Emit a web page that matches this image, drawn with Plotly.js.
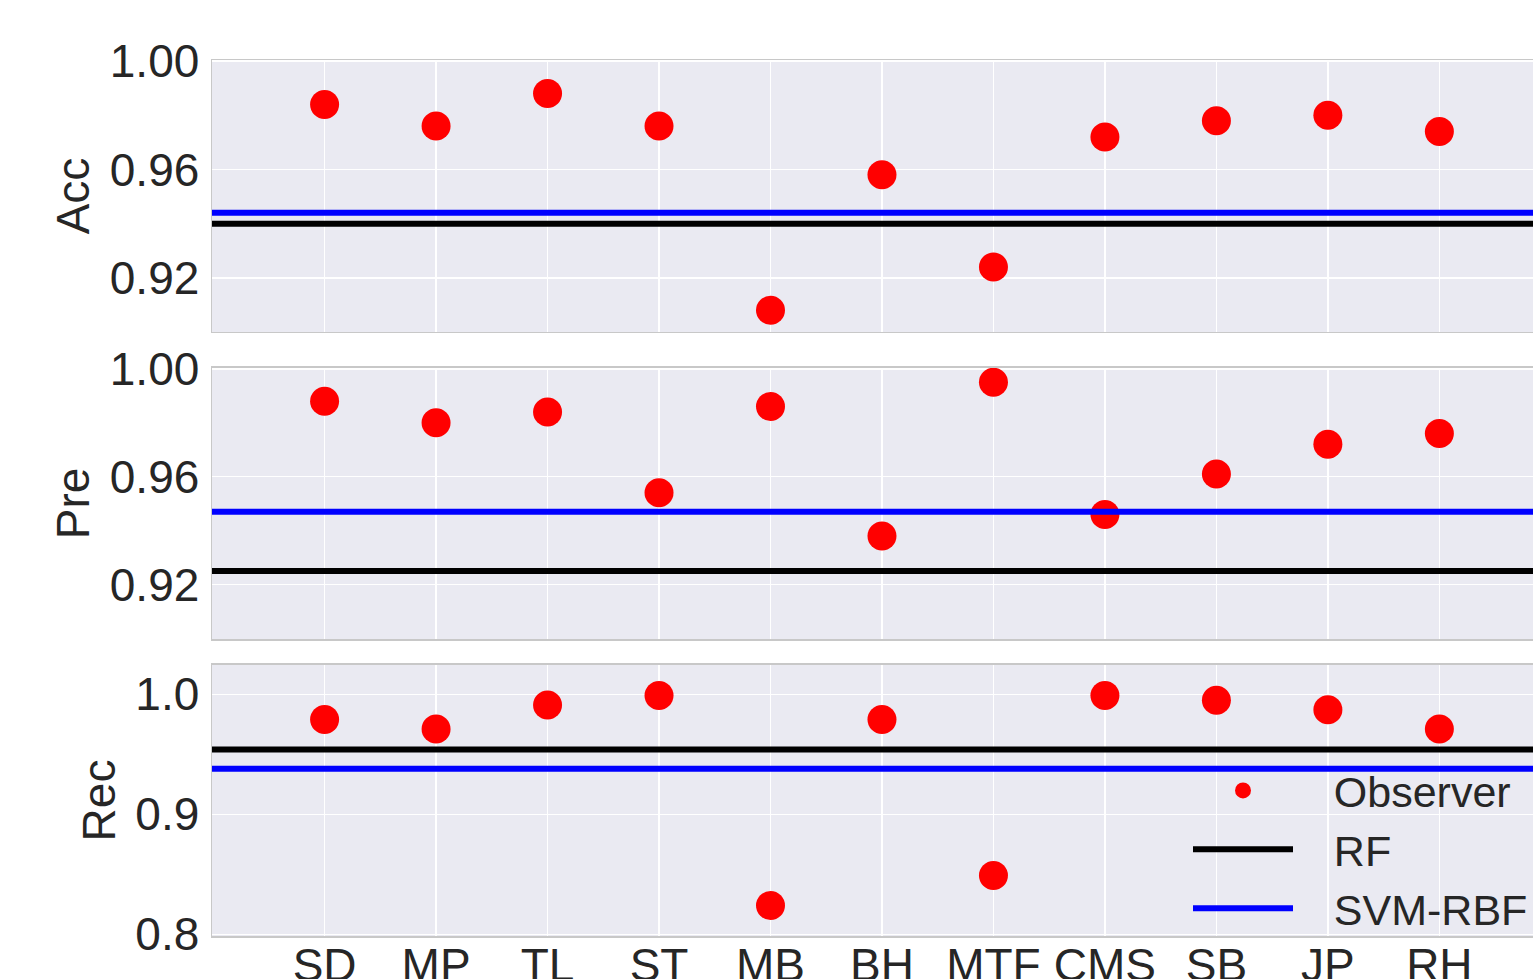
<!DOCTYPE html>
<html>
<head>
<meta charset="utf-8">
<script src="https://cdn.plot.ly/plotly-3.0.1.min.js"></script>
<style>html,body{margin:0;padding:0;overflow:hidden;background:#fff}#chart{width:1533px;height:979px}</style>
</head>
<body>
<div id="chart"></div>
<script>
// ---- data ----
const categories = ["SD","MP","TL","ST","MB","BH","MTF","CMS","SB","JP","RH"];
const accObserver = [0.984,0.976,0.988,0.976,0.908,0.958,0.924,0.972,0.978,0.980,0.974];
const preObserver = [0.988,0.980,0.984,0.954,0.986,0.938,0.995,0.946,0.961,0.972,0.976];
const recObserver = [0.979,0.971,0.991,0.999,0.824,0.979,0.849,0.999,0.995,0.987,0.971];
const rfValues  = {acc:0.940, pre:0.925, rec:0.954};
const svmValues = {acc:0.944, pre:0.947, rec:0.938};
const metricNames = ["Acc","Pre","Rec"];
const seriesNames = ["Observer","RF","SVM-RBF"];

const FONT = "Liberation Sans, Arial, sans-serif";
const TXT = "#262626";
const BG = "#EAEAF2";
const BORDER = "#c8c8c8";
const GAP = "\u00A0\u00A0\u00A0"; // space between legend symbol and text

const obsSeries = [accObserver, preObserver, recObserver];
const keys = ["acc","pre","rec"];
const traces = [];
obsSeries.forEach((vals,i)=>{
  traces.push({
    type:"scatter", mode:"markers", x:categories, y:vals,
    xaxis: i===0?"x":"x"+(i+1), yaxis: i===0?"y":"y"+(i+1),
    marker:{color:"#ff0000", size:29},
    name:GAP+seriesNames[0], showlegend: i===2, legendrank:1
  });
});
// legend entries for the reference lines (lines themselves drawn as shapes spanning the axes)
traces.push({type:"scatter", mode:"lines", x:[null], y:[null], xaxis:"x3", yaxis:"y3",
  line:{color:"#000000", width:6}, name:GAP+seriesNames[1], legendrank:2});
traces.push({type:"scatter", mode:"lines", x:[null], y:[null], xaxis:"x3", yaxis:"y3",
  line:{color:"#0000ff", width:6}, name:GAP+seriesNames[2], legendrank:3});

const shapes = [];
keys.forEach((k,i)=>{
  const yr = i===0?"y":"y"+(i+1);
  const xr = (i===0?"x":"x"+(i+1))+" domain";
  shapes.push({type:"line", xref:xr, yref:yr, x0:0, x1:1, y0:svmValues[k], y1:svmValues[k],
    line:{color:"#0000ff", width:6}, layer:"above"});
  shapes.push({type:"line", xref:xr, yref:yr, x0:0, x1:1, y0:rfValues[k], y1:rfValues[k],
    line:{color:"#000000", width:6}, layer:"above"});
});

const xrange = [-1.01, 10.84];
function xaxis(showLabels, anchor){
  return {
    type:"category", range:xrange, anchor:anchor,
    showgrid:true, gridcolor:"#ffffff", gridwidth:1.5,
    showline:true, mirror:true, linecolor:BORDER, linewidth:1.5,
    ticks:"", showticklabels:showLabels, zeroline:false,
    tickfont:{family:FONT, size:46, color:TXT}, ticklabelstandoff:-12
  };
}
function yaxis(title, domain, range, tickvals, fmt, anchor){
  return {
    domain:domain, range:range, anchor:anchor,
    tickvals:tickvals, tickformat:fmt,
    showgrid:true, gridcolor:"#ffffff", gridwidth:1.5,
    showline:true, mirror:true, linecolor:BORDER, linewidth:1.5,
    ticks:"", zeroline:false,
    tickfont:{family:FONT, size:46, color:TXT}, ticklabelstandoff:2,
    title:{text:title, font:{family:FONT, size:46, color:TXT}, standoff:5}
  };
}

const layout = {
  width:1533, height:979,
  margin:{l:212, r:0, t:60, b:43},
  paper_bgcolor:"#ffffff", plot_bgcolor:BG,
  font:{family:FONT, color:TXT},
  showlegend:true,
  legend:{x:1, xanchor:"right", y:-0.008, yanchor:"bottom", bgcolor:"rgba(0,0,0,0)",
    font:{family:FONT, size:43, color:TXT}, itemwidth:100, tracegroupgap:0},
  xaxis: xaxis(false,"y"),
  xaxis2: xaxis(false,"y2"),
  xaxis3: xaxis(true,"y3"),
  yaxis: yaxis(metricNames[0],[0.6895,1],[0.90,1.0004],[0.92,0.96,1.00],".2f","x"),
  yaxis2: yaxis(metricNames[1],[0.339,0.6487],[0.8998,1.0004],[0.92,0.96,1.00],".2f","x2"),
  yaxis3: yaxis(metricNames[2],[0,0.3094],[0.7986,1.0244],[0.8,0.9,1.0],".1f","x3"),
  shapes:shapes
};
layout.xaxis.matches = "x3"; layout.xaxis2.matches = "x3";

Plotly.newPlot("chart", traces, layout, {displayModeBar:false, staticPlot:true});
</script>
</body>
</html>
